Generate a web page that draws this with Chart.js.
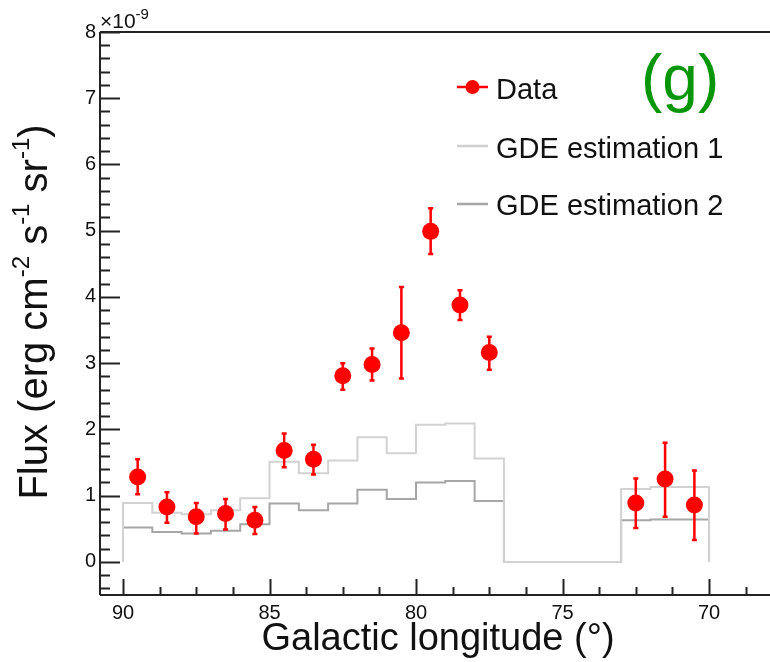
<!DOCTYPE html>
<html>
<head>
<meta charset="utf-8">
<script src="https://cdn.jsdelivr.net/npm/chart.js@4/dist/chart.umd.min.js"></script>
<style>
  html, body { margin: 0; padding: 0; background: #fff; }
  #wrap { width: 770px; height: 662px; }
</style>
</head>
<body>
<div id="wrap"><canvas id="chart" width="770" height="662"></canvas></div>
<script>
// data (flux in units of 1e-9)
const dataLon = [89.5, 88.5, 87.5, 86.5, 85.5, 84.5, 83.5, 82.5, 81.5, 80.5, 79.5, 78.5, 77.5, 72.5, 71.5, 70.5];
const dataFlux = [1.28, 0.83, 0.68, 0.73, 0.63, 1.68, 1.55, 2.81, 2.98, 3.46, 4.99, 3.88, 3.16, 0.89, 1.25, 0.86];
const errHigh = [1.55, 1.05, 0.89, 0.95, 0.83, 1.94, 1.77, 3.00, 3.22, 4.15, 5.34, 4.10, 3.40, 1.26, 1.80, 1.38];
const errLow = [1.02, 0.59, 0.43, 0.49, 0.42, 1.43, 1.32, 2.60, 2.74, 2.77, 4.65, 3.65, 2.90, 0.51, 0.68, 0.33];

// 1 degree bins, upper edges from 90 down to 70
const binUpper = [90, 89, 88, 87, 86, 85, 84, 83, 82, 81, 80, 79, 78, 77, 76, 75, 74, 73, 72, 71];
const gde1 = [0.89, 0.74, 0.72, 0.78, 0.96, 1.51, 1.34, 1.53, 1.88, 1.64, 2.07, 2.09, 1.56, 0, 0, 0, 0, 1.10, 1.13, 1.13];
const gde2 = [0.52, 0.45, 0.43, 0.47, 0.57, 0.88, 0.78, 0.88, 1.09, 0.95, 1.20, 1.22, 0.92, 0, 0, 0, 0, 0.63, 0.64, 0.64];

const xMajor = [90, 85, 80, 75, 70];
const yMajor = [0, 1, 2, 3, 4, 5, 6, 7, 8];

const FONT = "'Liberation Sans', Arial, sans-serif";

function histPoints(vals) {
    // stepped 'after': vertical at previous x, then horizontal
    const pts = [{x: binUpper[0], y: 0}];
    vals.forEach((v, i) => pts.push({x: binUpper[i] - 1, y: v}));
    pts.push({x: binUpper[binUpper.length - 1] - 1, y: 0});
    return pts;
}

function drawSup(ctx, parts, x, y, big, small) {
    // parts: [text, isSup]
    let cx = x;
    parts.forEach(p => {
        if (p[1]) {
            ctx.font = small + 'px ' + FONT;
            ctx.fillText(p[0], cx, y - big * 0.45);
        } else {
            ctx.font = big + 'px ' + FONT;
            ctx.fillText(p[0], cx, y);
        }
        cx += ctx.measureText(p[0]).width;
    });
    return cx - x;
}

function measureSup(ctx, parts, big, small) {
    let w = 0;
    parts.forEach(p => {
        ctx.font = (p[1] ? small : big) + 'px ' + FONT;
        w += ctx.measureText(p[0]).width;
    });
    return w;
}

const decor = {
    id: 'decor',
    beforeDatasetDraw(chart, args) {
        if (args.index !== 0) return;
        const ctx = chart.ctx, xs = chart.scales.x, ys = chart.scales.y;
        ctx.save();
        ctx.strokeStyle = '#ff0000';
        ctx.lineWidth = 2.5;
        dataLon.forEach((lon, i) => {
            const px = xs.getPixelForValue(lon);
            const top = ys.getPixelForValue(errHigh[i]);
            const bot = ys.getPixelForValue(errLow[i]);
            ctx.beginPath();
            ctx.moveTo(px, top); ctx.lineTo(px, bot);
            ctx.moveTo(px - 2.5, top); ctx.lineTo(px + 2.5, top);
            ctx.moveTo(px - 2.5, bot); ctx.lineTo(px + 2.5, bot);
            ctx.stroke();
        });
        ctx.restore();
    },
    afterDraw(chart) {
        const ctx = chart.ctx, xs = chart.scales.x, ys = chart.scales.y;
        const a = chart.chartArea;
        ctx.save();
        ctx.strokeStyle = '#222';
        ctx.lineWidth = 2;
        // frame
        ctx.beginPath();
        ctx.moveTo(a.left, a.top); ctx.lineTo(a.right, a.top);
        ctx.moveTo(a.left, a.top); ctx.lineTo(a.left, a.bottom);
        ctx.moveTo(a.left, a.bottom); ctx.lineTo(a.right, a.bottom);
        ctx.stroke();
        // y ticks, major every 1, minor every 0.2
        ctx.beginPath();
        for (let k = -2; k <= 40; k++) {
            const v = k * 0.2;
            if (v < ys.min || v > ys.max + 1e-6) continue;
            const py = Math.round(ys.getPixelForValue(v)) + 0.5;
            const len = (k % 5 === 0) ? 20 : 10;
            ctx.moveTo(a.left, py); ctx.lineTo(a.left + len, py);
        }
        // x ticks, major every 5, minor every 1.25
        for (let k = 0; k <= 20; k++) {
            const v = 90 - k * 1.25;
            if (v < xs.min) continue;
            const px = Math.round(xs.getPixelForValue(v)) + 0.5;
            const len = (k % 4 === 0) ? 16 : 8;
            ctx.moveTo(px, a.bottom); ctx.lineTo(px, a.bottom - len);
        }
        ctx.stroke();

        ctx.fillStyle = '#111';
        ctx.textBaseline = 'alphabetic';
        // exponent label
        drawSup(ctx, [['\u00d710', false], ['-9', true]], a.left, 28, 21, 15);

        // x title
        ctx.font = '38px ' + FONT;
        ctx.textAlign = 'center';
        ctx.fillText('Galactic longitude (\u00b0)', 438, 650);

        // y title (rotated)
        const yParts = [['Flux (erg cm', false], ['-2', true], [' s', false], ['-1', true], [' sr', false], ['-1', true], [')', false]];
        ctx.textAlign = 'left';
        const w = measureSup(ctx, yParts, 40, 24);
        ctx.save();
        ctx.translate(47, 312);
        ctx.rotate(-Math.PI / 2);
        drawSup(ctx, yParts, -w / 2, 0, 40, 24);
        ctx.restore();

        // legend
        ctx.lineWidth = 2.5;
        ctx.strokeStyle = '#ff0000';
        ctx.beginPath(); ctx.moveTo(457, 87); ctx.lineTo(488, 87); ctx.stroke();
        ctx.fillStyle = '#ff0000';
        ctx.beginPath(); ctx.arc(472.5, 87, 7, 0, Math.PI * 2); ctx.fill();
        ctx.strokeStyle = '#cfcfcf';
        ctx.beginPath(); ctx.moveTo(457, 146); ctx.lineTo(488, 146); ctx.stroke();
        ctx.strokeStyle = '#a6a6a6';
        ctx.beginPath(); ctx.moveTo(457, 204); ctx.lineTo(488, 204); ctx.stroke();
        ctx.fillStyle = '#111';
        ctx.font = '29px ' + FONT;
        ctx.fillText('Data', 496, 99);
        ctx.fillText('GDE estimation 1', 496, 158);
        ctx.fillText('GDE estimation 2', 496, 215);

        // panel tag
        ctx.fillStyle = '#0a960a';
        ctx.font = '64px ' + FONT;
        ctx.fillText('(g)', 641, 100);
        ctx.restore();
    }
};

new Chart(document.getElementById('chart'), {
    type: 'scatter',
    data: {
        datasets: [
            {
                label: 'Data',
                data: dataLon.map((x, i) => ({x: x, y: dataFlux[i]})),
                backgroundColor: '#ff0000',
                borderWidth: 0,
                pointRadius: 8.5,
                pointHoverRadius: 8.5
            },
            {
                label: 'GDE estimation 1',
                data: histPoints(gde1),
                showLine: true,
                stepped: 'after',
                borderColor: '#d2d2d2',
                borderWidth: 2,
                pointRadius: 0
            },
            {
                label: 'GDE estimation 2',
                data: histPoints(gde2),
                showLine: true,
                stepped: 'after',
                borderColor: '#a6a6a6',
                borderWidth: 2,
                pointRadius: 0
            }
        ]
    },
    options: {
        responsive: false,
        animation: false,
        events: [],
        layout: { autoPadding: false, padding: { top: 32, left: 0, right: 0, bottom: 0 } },
        plugins: { legend: { display: false }, tooltip: { enabled: false } },
        scales: {
            x: {
                type: 'linear',
                reverse: true,
                min: 67.92,
                max: 90.785,
                grid: { display: false, drawTicks: false },
                border: { display: false },
                afterBuildTicks: s => { s.ticks = xMajor.map(v => ({value: v})); },
                afterFit: s => { s.height = 67; s.paddingLeft = 0; s.paddingRight = 0; },
                ticks: {
                    padding: 6,
                    color: '#111',
                    font: { family: FONT, size: 20 },
                    maxRotation: 0,
                    autoSkip: false
                }
            },
            y: {
                min: -0.5,
                max: 8,
                grid: { display: false, drawTicks: false },
                border: { display: false },
                afterBuildTicks: s => { s.ticks = yMajor.map(v => ({value: v})); },
                afterFit: s => { s.width = 100; s.paddingTop = 0; s.paddingBottom = 0; },
                ticks: {
                    padding: 4,
                    color: '#111',
                    font: { family: FONT, size: 20 },
                    autoSkip: false
                }
            }
        }
    },
    plugins: [decor]
});
</script>
</body>
</html>
